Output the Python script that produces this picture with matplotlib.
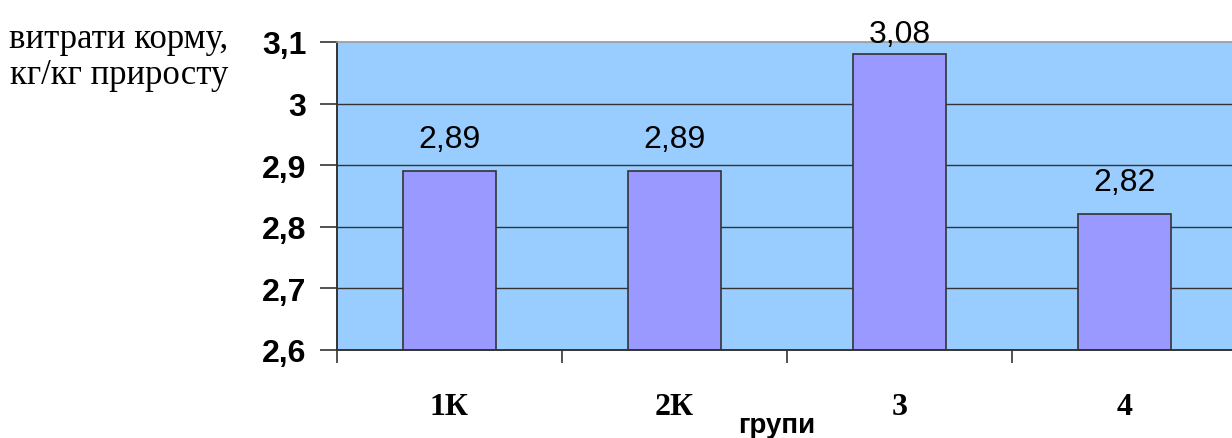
import matplotlib
matplotlib.use('Agg')
import matplotlib.pyplot as plt
import numpy as np

groups = ['1К', '2К', '3', '4']
values = [2.89, 2.89, 3.08, 2.82]
value_labels = ['2,89', '2,89', '3,08', '2,82']
y_ticks = [2.6, 2.7, 2.8, 2.9, 3.0, 3.1]
y_tick_labels = ['2,6', '2,7', '2,8', '2,9', '3', '3,1']

fig = plt.figure(figsize=(12.32, 4.39), dpi=100)
# plot area runs past the right edge of the figure
ax = fig.add_axes([337 / 1232, 88 / 439, 900 / 1232, 308 / 439])
ax.set_facecolor('#99CCFF')

x = np.arange(len(groups))
y_min, y_max = y_ticks[0], y_ticks[-1]
ax.set_ylim(y_min, y_max)
ax.set_xlim(-0.5, len(groups) - 0.5)

for yv in y_ticks[1:-1]:
    ax.axhline(yv, color='#333333', linewidth=1.0, zorder=1)

ax.bar(x, [v - y_min for v in values], bottom=y_min, width=0.41,
       color='#9999FF', edgecolor='#333333', linewidth=1.2, zorder=2)

# value labels sit above the bars, but never above the plot area
for xi, v, lab in zip(x, values, value_labels):
    ax.text(xi, min(v + 0.039, y_max), lab, ha='center', va='baseline',
            fontsize=23, fontweight='medium', family='Liberation Sans', color='black', zorder=3)

ax.set_yticks(y_ticks)
ax.set_yticklabels(y_tick_labels, fontsize=23, fontweight='bold', family='Liberation Sans')
ax.tick_params(axis='y', length=12, width=1.2, color='#333333', pad=10)

# category boundary ticks, labels centred on bars
ax.set_xticks(np.arange(len(groups) + 1) - 0.5)
ax.set_xticklabels([])
ax.set_xticks(x, minor=True)
ax.set_xticklabels(groups, minor=True, fontsize=23, fontweight='bold', family='Liberation Serif')
ax.tick_params(axis='x', which='major', length=9, width=1.2, color='#333333')
ax.tick_params(axis='x', which='minor', length=0, pad=30)

for side in ['left', 'bottom']:
    ax.spines[side].set_color('#333333')
    ax.spines[side].set_linewidth(1.4)
ax.spines['top'].set_color('#999999')
ax.spines['top'].set_linewidth(1.2)
ax.spines['right'].set_visible(False)

fig.text(777 / 1232, 1 - 426 / 439, 'групи', ha='center', va='center',
         fontsize=20, fontweight='bold', family='Liberation Sans')
fig.text(119 / 1232, 1 - 57 / 439, 'витрати корму,\nкг/кг приросту', ha='center', va='center',
         multialignment='center', fontsize=25, family='Liberation Serif', linespacing=1.12)

plt.savefig('out.png', dpi=100)
plt.close()
